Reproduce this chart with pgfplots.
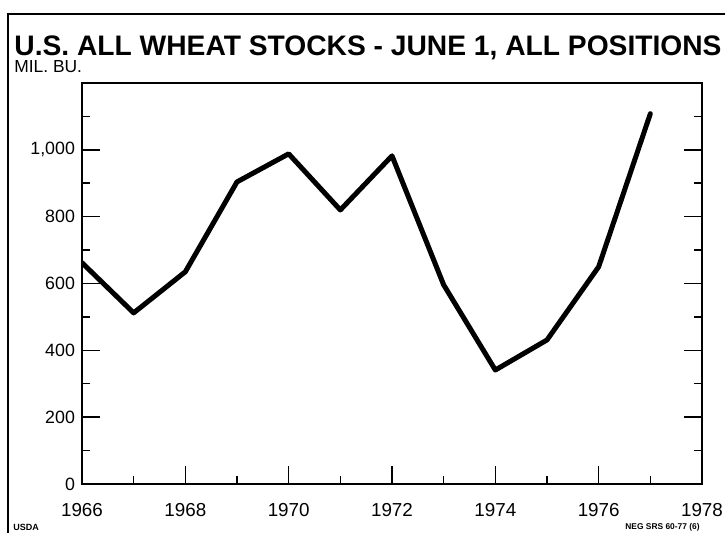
\documentclass[border=0pt]{standalone}
\usepackage{fontspec}
\setmainfont{Liberation Sans}
\usepackage{pgfplots}
\pgfplotsset{compat=1.18}
\begin{document}
\begin{tikzpicture}
\useasboundingbox (0pt,0pt) rectangle (362.5pt,266.5pt);
\begin{scope}[x=0.5pt,y=0.5pt]
\draw[line width=1pt] (8,0) -- (8,519) -- (725,519);
\node[anchor=west, inner sep=0pt, font=\fontsize{14.1}{16}\selectfont\bfseries] at (14,485) {U.S. ALL WHEAT STOCKS - JUNE 1, ALL POSITIONS};
\node[anchor=west, inner sep=0pt, font=\fontsize{8.7}{10}\selectfont] at (14,466) {MIL. BU.};
\node[anchor=west, inner sep=0pt, font=\fontsize{4.5}{5}\selectfont\bfseries] at (13,6) {USDA};
\node[anchor=east, inner sep=0pt, font=\fontsize{4.2}{5}\selectfont\bfseries] at (700,6) {NEG SRS 60-77 (6)};
\end{scope}
\begin{axis}[
  at={(41pt,24.5pt)}, anchor=south west,
  scale only axis, width=310pt, height=200.5pt,
  xmin=1966, xmax=1978, ymin=0, ymax=1200,
  xtick={1966,1968,...,1978},
  xticklabels={1966,1968,1970,1972,1974,1976,1978},
  minor xtick={1967,1969,...,1977},
  ytick={0,200,...,1000},
  yticklabels={0,200,400,600,800,{1,000}},
  minor ytick={100,300,...,1100},
  tick align=inside,
  xtick pos=bottom, ytick pos=both,
  major tick length=9pt, minor tick length=4pt,
  every tick/.style={black, line width=0.75pt},
  axis line style={line width=0.8pt},
  tick label style={font=\fontsize{8.9}{10}\selectfont},
  xticklabel style={yshift=-6pt, font=\fontsize{9.4}{10}\selectfont},
]
\addplot[black, line width=2.5pt, line join=round, line cap=round] coordinates {
(1966,662) (1967,512) (1968,635) (1969,904) (1970,988) (1971,820)
(1972,982) (1973,596) (1974,341) (1975,431) (1976,650) (1977,1108)
};
\end{axis}
\end{tikzpicture}
\end{document}
